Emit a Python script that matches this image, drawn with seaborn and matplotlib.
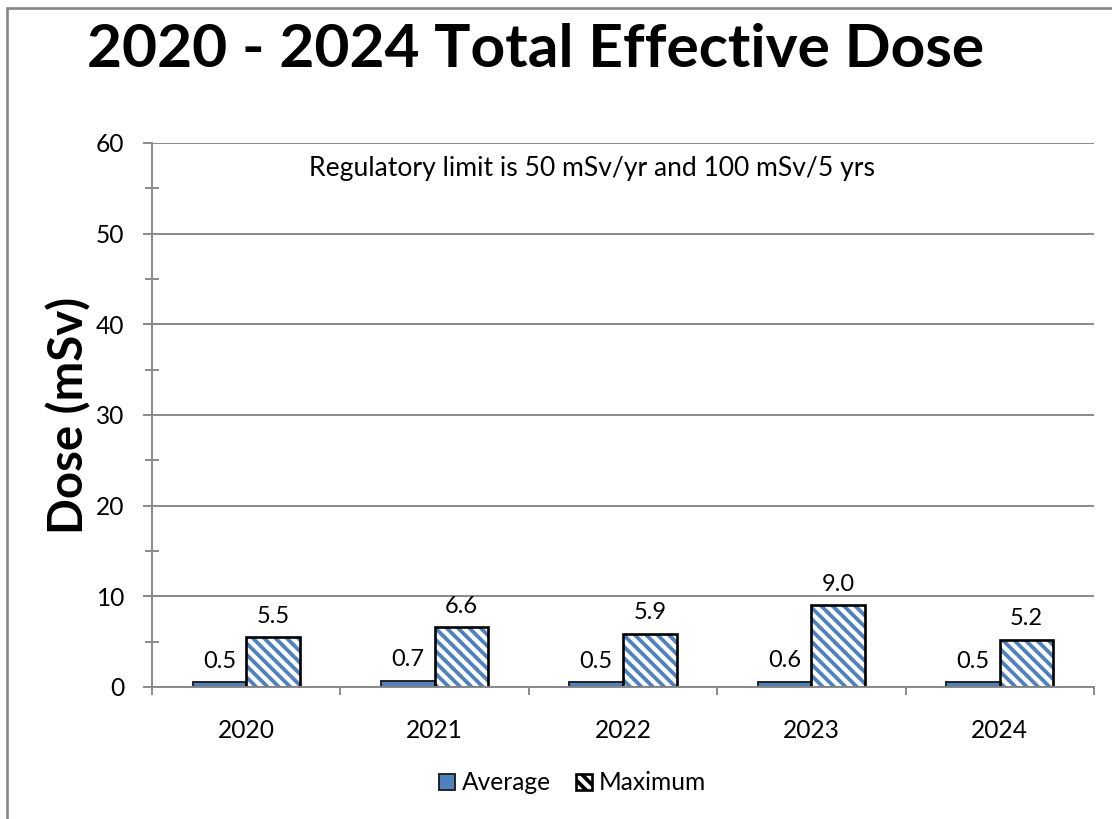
import matplotlib
matplotlib.use("Agg")
import matplotlib.pyplot as plt
import seaborn as sns
import pandas as pd
from matplotlib.lines import Line2D
from matplotlib.patches import Patch
from matplotlib.ticker import MultipleLocator, FixedLocator

# Dose data (mSv)
years = ["2020", "2021", "2022", "2023", "2024"]
average_dose = [0.5, 0.7, 0.5, 0.6, 0.5]
maximum_dose = [5.5, 6.6, 5.9, 9.0, 5.2]
series_names = ["Average", "Maximum"]

BLUE = "#4F81BD"
GRID = "#878787"
DPI = 136
HATCH = "\\\\\\\\"

sns.set_theme(style="white")
plt.rcParams["font.family"] = ["Lato", "DejaVu Sans"]
plt.rcParams["text.color"] = "black"
plt.rcParams["axes.labelcolor"] = "black"
plt.rcParams["xtick.labelcolor"] = "black"
plt.rcParams["ytick.labelcolor"] = "black"
plt.rcParams["hatch.color"] = BLUE
plt.rcParams["hatch.linewidth"] = 2.0

df = pd.DataFrame({
    "Year": years * 2,
    "Dose": average_dose + maximum_dose,
    "Series": [series_names[0]] * len(years) + [series_names[1]] * len(years),
})

fig = plt.figure(figsize=(1112 / DPI, 819 / DPI), dpi=DPI)
ax = fig.add_axes([152 / 1112, 1 - 687 / 819, (1094 - 152) / 1112, (687 - 143) / 819])

sns.barplot(data=df, x="Year", y="Dose", hue="Series", order=years,
            hue_order=series_names, palette=[BLUE, "white"], width=0.57,
            saturation=1, errorbar=None, legend=False, ax=ax)

# Style the two series: solid average, hatched maximum
avg_bars, max_bars = ax.containers[0], ax.containers[1]
for p in avg_bars:
    p.set_facecolor(BLUE)
    p.set_edgecolor("#1F1F1F")
    p.set_linewidth(1.0)
for p in max_bars:
    p.set_facecolor("white")
    p.set_hatch(HATCH)
    p.set_edgecolor("black")
    p.set_linewidth(1.4)
    p._hatch_color = matplotlib.colors.to_rgba(BLUE)

for container, vals in ((avg_bars, average_dose), (max_bars, maximum_dose)):
    ax.bar_label(container, labels=[f"{v:.1f}" for v in vals], padding=5.5,
                 fontsize=12.5, color="black")

ax.set_xlim(-0.5, len(years) - 0.5)
ax.set_ylim(0, 60)
ax.yaxis.set_major_locator(MultipleLocator(10))
ax.yaxis.set_minor_locator(MultipleLocator(5))
ax.grid(axis="y", which="major", color=GRID, linewidth=1.0)
ax.set_axisbelow(True)

for side in ("top", "right"):
    ax.spines[side].set_visible(False)
for side in ("left", "bottom"):
    ax.spines[side].set_color(GRID)
    ax.spines[side].set_linewidth(1.0)

ax.tick_params(axis="y", which="major", direction="out", length=4.8, width=1,
               color=GRID, pad=10, labelsize=13, left=True)
ax.tick_params(axis="y", which="minor", direction="inout", length=7.4, width=1,
               color=GRID, left=True)
ax.xaxis.set_minor_locator(FixedLocator([i - 0.5 for i in range(len(years) + 1)]))
ax.tick_params(axis="x", which="major", length=0, pad=17, labelsize=13)
ax.tick_params(axis="x", which="minor", direction="out", length=4.2, width=1,
               color=GRID, bottom=True)

ax.set_xlabel("")
ax.set_ylabel("Dose (mSv)", fontsize=25, fontweight="bold")
ax.yaxis.set_label_coords((91 - 152) / 942, 0.5)

ax.text(0.467, 57.2, "Regulatory limit is 50 mSv/yr and 100 mSv/5 yrs",
        transform=ax.get_yaxis_transform(), ha="center", va="center",
        fontsize=14, color="black")

fig.text(536 / 1112, 1 - 50 / 819, "2020 - 2024 Total Effective Dose",
         ha="center", va="center", fontsize=32, fontweight="bold")

handles = [Patch(facecolor=BLUE, edgecolor="#1F1F1F", linewidth=1.0),
           Patch(facecolor="white", edgecolor="black", hatch=HATCH, linewidth=1.4)]
fig.legend(handles, series_names, loc="center", bbox_to_anchor=(0.515, 1 - 783 / 819),
           ncol=2, frameon=False, fontsize=13, handlelength=0.65, handleheight=0.65,
           handletextpad=0.3, columnspacing=1.0)

# Outer chart frame (top and left edges)
fig.add_artist(Line2D([7 / 1112, 1.01], [1 - 8 / 819, 1 - 8 / 819],
                      transform=fig.transFigure, color=GRID, linewidth=1.4))
fig.add_artist(Line2D([7 / 1112, 7 / 1112], [1 - 8 / 819, -0.01],
                      transform=fig.transFigure, color=GRID, linewidth=1.4))

fig.savefig("out.png", dpi=DPI)
